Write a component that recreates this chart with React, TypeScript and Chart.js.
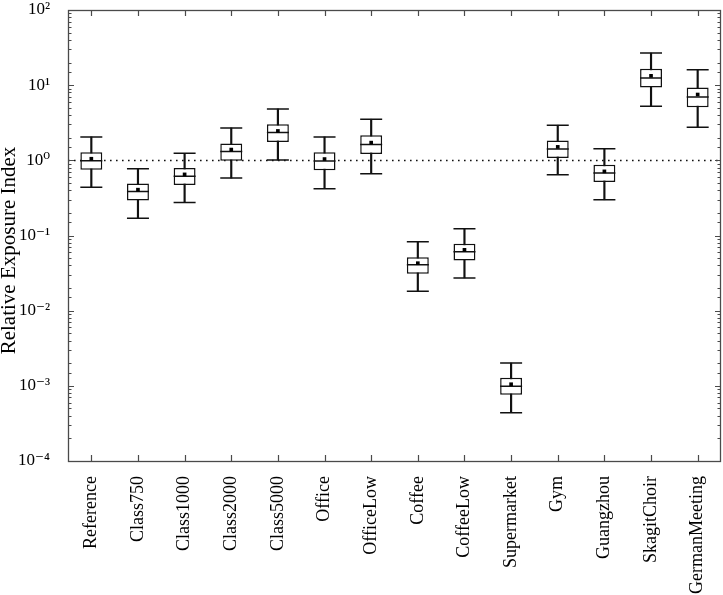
import React, { useEffect, useRef } from 'react';
import { Chart, registerables } from 'chart.js';

Chart.register(...registerables);

const categories = [
  'Reference', 'Class750', 'Class1000', 'Class2000', 'Class5000', 'Office', 'OfficeLow',
  'Coffee', 'CoffeeLow', 'Supermarket', 'Gym', 'Guangzhou', 'SkagitChoir', 'GermanMeeting',
];
const whiskerLow = [0.44, 0.17, 0.275, 0.58, 1.01, 0.42, 0.664, 0.0181, 0.0273, 0.00044, 0.644, 0.299, 5.25, 2.75];
const q1 = [0.75, 0.293, 0.469, 0.99, 1.75, 0.74, 1.21, 0.0311, 0.0464, 0.00076, 1.07, 0.514, 9.31, 5.09];
const median = [0.99, 0.386, 0.612, 1.31, 2.34, 0.98, 1.63, 0.0407, 0.0606, 0.00099, 1.42, 0.677, 12.5, 6.98];
const q3 = [1.28, 0.493, 0.79, 1.67, 3.02, 1.28, 2.15, 0.0514, 0.0775, 0.00128, 1.83, 0.875, 16.5, 9.31];
const whiskerHigh = [2.05, 0.774, 1.24, 2.7, 4.83, 2.05, 3.52, 0.0824, 0.123, 0.00201, 2.93, 1.43, 26.7, 16.0];
const mean = [1.05, 0.407, 0.65, 1.39, 2.46, 1.04, 1.72, 0.0428, 0.0645, 0.00105, 1.51, 0.713, 13.3, 7.51];

const yMin = 1e-4;
const yMax = 1e2;
const referenceLevel = 1;
const yTickLabels: Record<string, string> = {
  '-4': '10⁻⁴', '-3': '10⁻³', '-2': '10⁻²', '-1': '10⁻¹', '0': '10⁰', '1': '10¹', '2': '10²',
};
const yTitle = 'Relative Exposure Index';

const FONT = "'Liberation Serif', 'DejaVu Serif', serif";

const isPow10 = (v: number) => {
  const l = Math.log10(v);
  return Math.abs(l - Math.round(l)) < 1e-6;
};

const framePlugin = {
  id: 'frameTicks',
  beforeDatasetsDraw(chart: any) {
    const { ctx, chartArea: a, scales } = chart;
    const py = Math.round(scales.y.getPixelForValue(referenceLevel)) + 0.5;
    ctx.save();
    ctx.strokeStyle = '#111';
    ctx.lineWidth = 1.4;
    ctx.setLineDash([1.6, 4.4]);
    ctx.beginPath();
    ctx.moveTo(a.left, py);
    ctx.lineTo(a.right, py);
    ctx.stroke();
    ctx.restore();
  },
  afterDatasetsDraw(chart: any) {
    const { ctx, chartArea: a, scales } = chart;
    ctx.save();
    ctx.strokeStyle = '#4a4a4a';
    ctx.lineWidth = 1.2;
    ctx.beginPath();
    scales.y.ticks.forEach((t: any) => {
      const py = Math.round(scales.y.getPixelForValue(t.value)) + 0.5;
      const len = isPow10(t.value) ? 6 : 3.5;
      ctx.moveTo(a.left, py);
      ctx.lineTo(a.left + len, py);
      ctx.moveTo(a.right, py);
      ctx.lineTo(a.right - len, py);
    });
    scales.x.ticks.forEach((_t: any, i: number) => {
      const px = Math.round(scales.x.getPixelForTick(i)) + 0.5;
      ctx.moveTo(px, a.bottom);
      ctx.lineTo(px, a.bottom - 6);
      ctx.moveTo(px, a.top);
      ctx.lineTo(px, a.top + 6);
    });
    ctx.stroke();
    ctx.lineWidth = 1.3;
    ctx.strokeRect(Math.round(a.left) + 0.5, Math.round(a.top) + 0.5, Math.round(a.right - a.left) - 1, Math.round(a.bottom - a.top));
    ctx.restore();
  },
  afterDraw(chart: any) {
    const { ctx, chartArea: a } = chart;
    ctx.save();
    ctx.translate(15, (a.top + a.bottom) / 2 + 15);
    ctx.rotate(-Math.PI / 2);
    ctx.font = `21px ${FONT}`;
    ctx.fillStyle = '#000';
    ctx.textAlign = 'center';
    ctx.textBaseline = 'alphabetic';
    ctx.fillText(yTitle, 0, 0);
    ctx.restore();
  },
};

export default function App() {
  const ref = useRef<HTMLCanvasElement>(null);
  useEffect(() => {
    if (!ref.current) return;
    const boxData = q1.map((v, i) => [v, q3[i]]);
    const whiskerData = whiskerLow.map((v, i) => [v, whiskerHigh[i]]);
    const pointLine = (label: string, data: number[], order: number) => ({
      type: 'line' as const,
      label,
      data,
      showLine: false,
      pointStyle: 'line',
      pointRadius: 11,
      pointHoverRadius: 11,
      pointBorderWidth: 1.5,
      pointBorderColor: '#111',
      borderColor: '#111',
      order,
    });
    const chart = new Chart(ref.current, {
      type: 'bar',
      data: {
        labels: categories,
        datasets: [
          {
            type: 'bar',
            label: 'whisker',
            data: whiskerData as any,
            backgroundColor: '#111',
            borderWidth: 0,
            barThickness: 1.5,
            grouped: false,
            order: 10,
          },
          {
            type: 'bar',
            label: 'box',
            data: boxData as any,
            backgroundColor: '#ffffff',
            borderColor: '#111',
            borderWidth: 1.5,
            borderSkipped: false,
            barPercentage: 0.47,
            categoryPercentage: 1,
            grouped: false,
            order: 8,
          },
          pointLine('median', median, 3),
          pointLine('high', whiskerHigh, 3),
          pointLine('low', whiskerLow, 3),
          {
            type: 'line',
            label: 'mean',
            data: mean,
            showLine: false,
            pointStyle: 'rect',
            pointRadius: 2.6,
            pointBorderWidth: 0,
            pointBackgroundColor: '#000',
            order: 1,
          } as any,
        ] as any,
      },
      options: {
        responsive: false,
        animation: false,
        layout: { autoPadding: false, padding: { top: 10, right: 2, left: 0, bottom: 0 } },
        plugins: { legend: { display: false }, tooltip: { enabled: false } },
        scales: {
          x: {
            type: 'category',
            offset: true,
            grid: { display: false },
            border: { display: false },
            ticks: {
              color: '#000',
              font: { family: FONT, size: 18 },
              minRotation: 90,
              maxRotation: 90,
              padding: 7,
              autoSkip: false,
            },
            afterFit(s: any) {
              s.height = 134;
              s.paddingLeft = 0;
              s.paddingRight = 0;
            },
          },
          y: {
            type: 'logarithmic',
            min: yMin,
            max: yMax,
            grid: { display: false },
            border: { display: false },
            ticks: {
              autoSkip: false,
              color: '#000',
              font: { family: FONT, size: 17 },
              padding: 10,
              callback(v: any) {
                const n = Number(v);
                if (!isPow10(n)) return '';
                return yTickLabels[String(Math.round(Math.log10(n)))] ?? '';
              },
            },
            title: { display: false },
            afterFit(s: any) {
              s.width = 68;
              s.paddingTop = 0;
              s.paddingBottom = 0;
            },
          },
        },
      } as any,
      plugins: [framePlugin],
    });
    return () => chart.destroy();
  }, []);
  return (
    <canvas
      ref={ref}
      width={723}
      height={595}
      style={{ position: 'absolute', left: 0, top: 0, display: 'block' }}
    />
  );
}
